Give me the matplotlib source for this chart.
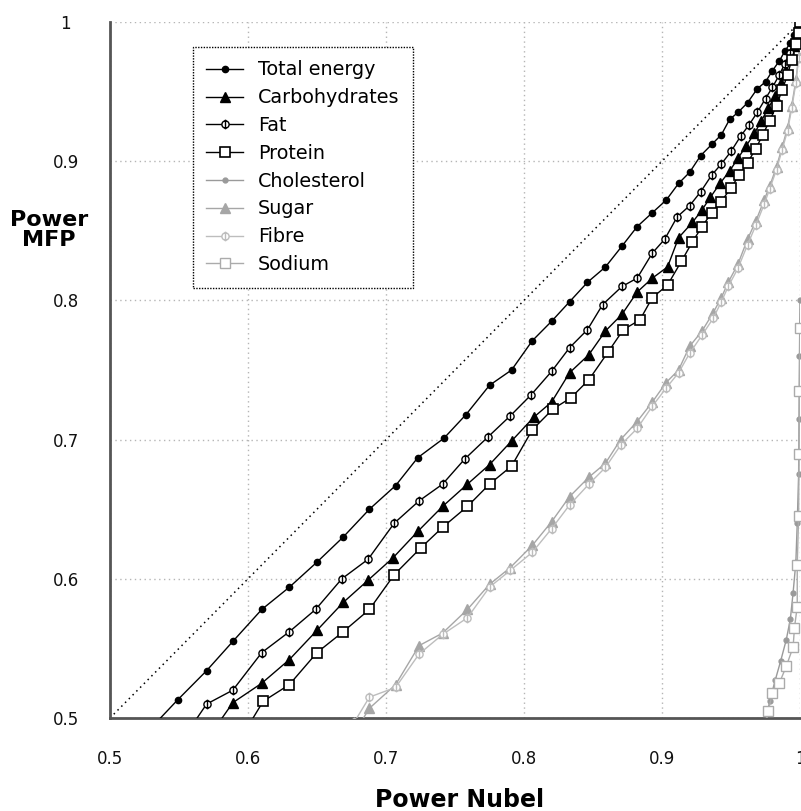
import numpy as np
import matplotlib
matplotlib.use("Agg")
import matplotlib.pyplot as plt
from matplotlib.path import Path

plt.rcParams['font.family'] = ['DejaVu Sans']

# tick values / labels
ticks = [0.5, 0.6, 0.7, 0.8, 0.9, 1.0]
tick_labels = ['0.5', '0.6', '0.7', '0.8', '0.9', '1']

# power curves (x = Power Nubel, y = Power MFP)
energy_x = [0.528, 0.549, 0.570, 0.589, 0.610, 0.630, 0.650, 0.669, 0.688, 0.707, 0.723, 0.742, 0.758,
            0.775, 0.791, 0.806, 0.820, 0.833, 0.846, 0.859, 0.871, 0.882, 0.893, 0.903, 0.912, 0.920,
            0.928, 0.936, 0.943, 0.949, 0.955, 0.962, 0.969, 0.975, 0.980, 0.985, 0.989, 0.993, 0.996,
            0.998, 1.0]
energy_y = [0.491, 0.513, 0.534, 0.555, 0.578, 0.594, 0.612, 0.630, 0.650, 0.667, 0.687, 0.701, 0.718,
            0.739, 0.750, 0.771, 0.785, 0.799, 0.813, 0.824, 0.839, 0.853, 0.863, 0.872, 0.884, 0.892,
            0.904, 0.912, 0.919, 0.930, 0.935, 0.942, 0.952, 0.957, 0.965, 0.972, 0.979, 0.985, 0.991,
            0.995, 1.0]

carb_x = [0.577, 0.589, 0.610, 0.630, 0.650, 0.669, 0.687, 0.705, 0.723, 0.741, 0.759, 0.775, 0.791,
          0.807, 0.820, 0.833, 0.847, 0.859, 0.871, 0.882, 0.893, 0.904, 0.912, 0.922, 0.929, 0.935,
          0.942, 0.949, 0.955, 0.961, 0.967, 0.972, 0.977, 0.982, 0.986, 0.990, 0.993, 0.996, 0.998, 1.0]
carb_y = [0.494, 0.511, 0.525, 0.542, 0.563, 0.583, 0.599, 0.615, 0.634, 0.652, 0.668, 0.682, 0.699,
          0.716, 0.727, 0.748, 0.761, 0.778, 0.790, 0.806, 0.816, 0.824, 0.845, 0.856, 0.865, 0.874,
          0.884, 0.893, 0.902, 0.911, 0.920, 0.929, 0.938, 0.947, 0.956, 0.965, 0.974, 0.983, 0.991, 1.0]

fat_x = [0.559, 0.570, 0.589, 0.610, 0.630, 0.649, 0.668, 0.687, 0.706, 0.724, 0.741, 0.757, 0.774,
         0.790, 0.805, 0.820, 0.833, 0.846, 0.857, 0.871, 0.882, 0.893, 0.902, 0.911, 0.920, 0.928,
         0.936, 0.943, 0.950, 0.957, 0.963, 0.969, 0.975, 0.980, 0.985, 0.989, 0.993, 0.996, 0.998, 1.0]
fat_y = [0.494, 0.510, 0.520, 0.547, 0.562, 0.578, 0.600, 0.614, 0.640, 0.656, 0.668, 0.686, 0.702,
         0.717, 0.732, 0.749, 0.766, 0.779, 0.797, 0.810, 0.816, 0.834, 0.844, 0.860, 0.868, 0.878,
         0.890, 0.898, 0.907, 0.918, 0.926, 0.935, 0.945, 0.953, 0.962, 0.970, 0.978, 0.986, 0.992, 1.0]

protein_x = [0.600, 0.611, 0.630, 0.650, 0.669, 0.688, 0.706, 0.725, 0.741, 0.759, 0.775, 0.791, 0.806,
             0.821, 0.834, 0.847, 0.861, 0.872, 0.884, 0.893, 0.904, 0.914, 0.922, 0.929, 0.936, 0.943,
             0.950, 0.956, 0.962, 0.968, 0.973, 0.978, 0.983, 0.987, 0.991, 0.994, 0.997, 0.999, 1.0]
protein_y = [0.494, 0.512, 0.524, 0.547, 0.562, 0.578, 0.603, 0.622, 0.637, 0.652, 0.668, 0.681, 0.707,
             0.722, 0.730, 0.743, 0.763, 0.779, 0.786, 0.802, 0.811, 0.828, 0.842, 0.853, 0.863, 0.871,
             0.881, 0.890, 0.899, 0.909, 0.919, 0.929, 0.940, 0.951, 0.962, 0.973, 0.984, 0.992, 1.0]

chol_x = [0.974, 0.978, 0.982, 0.986, 0.990, 0.993, 0.995, 0.997, 0.998, 0.999, 0.9993, 0.9996, 1.0]
chol_y = [0.492, 0.512, 0.527, 0.541, 0.556, 0.571, 0.590, 0.612, 0.640, 0.675, 0.715, 0.760, 0.80]

sugar_x = [0.680, 0.688, 0.707, 0.724, 0.741, 0.759, 0.775, 0.790, 0.806, 0.820, 0.833, 0.847, 0.859,
           0.870, 0.882, 0.893, 0.903, 0.912, 0.920, 0.929, 0.937, 0.943, 0.948, 0.955, 0.962, 0.968,
           0.974, 0.978, 0.983, 0.987, 0.991, 0.994, 0.997, 0.999, 1.0]
sugar_y = [0.494, 0.507, 0.524, 0.552, 0.561, 0.578, 0.596, 0.608, 0.624, 0.641, 0.659, 0.673, 0.683,
           0.700, 0.713, 0.727, 0.741, 0.750, 0.767, 0.778, 0.791, 0.802, 0.813, 0.826, 0.844, 0.857,
           0.872, 0.882, 0.896, 0.910, 0.924, 0.940, 0.958, 0.975, 1.0]

fibre_x = [0.677, 0.688, 0.707, 0.724, 0.741, 0.759, 0.775, 0.790, 0.806, 0.820, 0.833, 0.847, 0.859,
           0.870, 0.882, 0.893, 0.903, 0.912, 0.920, 0.929, 0.937, 0.943, 0.948, 0.955, 0.962, 0.968,
           0.974, 0.978, 0.983, 0.987, 0.991, 0.994, 0.997, 0.999, 1.0]
fibre_y = [0.497, 0.515, 0.522, 0.546, 0.560, 0.572, 0.594, 0.606, 0.619, 0.636, 0.653, 0.668, 0.680,
           0.696, 0.708, 0.724, 0.737, 0.748, 0.762, 0.775, 0.787, 0.799, 0.810, 0.823, 0.840, 0.854,
           0.869, 0.880, 0.894, 0.908, 0.922, 0.938, 0.956, 0.974, 1.0]

sodium_x = [0.975, 0.977, 0.980, 0.985, 0.990, 0.995, 0.996, 0.998, 0.998, 0.999, 0.9993, 0.9996, 1.0]
sodium_y = [0.494, 0.505, 0.518, 0.525, 0.537, 0.551, 0.565, 0.580, 0.610, 0.645, 0.690, 0.735, 0.78]

# circle with a vertical bar, used for Fat / Fibre
bar_circle = Path.make_compound_path(Path.unit_circle(), Path([[0, -1.35], [0, 1.35]]))

fig = plt.figure(figsize=(8.01, 8.11), dpi=100)
ax = fig.add_axes([110 / 801, 93 / 811, 690 / 801, 696 / 811])

# equal-power diagonal
ax.plot([0.5, 1.0], [0.5, 1.0], color='black', linestyle=(0, (1, 2.5)), linewidth=1.1, zorder=2)

blk = 'black'
ax.plot(energy_x, energy_y, color=blk, lw=1.0, marker='o', ms=4.5, label='Total energy', zorder=5)
ax.plot(carb_x, carb_y, color=blk, lw=1.0, marker='^', ms=7.5, label='Carbohydrates', zorder=5)
ax.plot(fat_x, fat_y, color=blk, lw=1.0, marker=bar_circle, ms=7, mfc='white', mew=1.0,
        label='Fat', zorder=5)
ax.plot(protein_x, protein_y, color=blk, lw=1.0, marker='s', ms=7, mfc='white', mew=1.2,
        label='Protein', zorder=5)
ax.plot(chol_x, chol_y, color='#9a9a9a', lw=1.0, marker='o', ms=3.5, label='Cholesterol', zorder=4)
ax.plot(sugar_x, sugar_y, color='#a6a6a6', lw=1.0, marker='^', ms=7.5, label='Sugar', zorder=4)
ax.plot(fibre_x, fibre_y, color='#bdbdbd', lw=1.0, marker=bar_circle, ms=7, mfc='white', mew=1.0,
        label='Fibre', zorder=4)
ax.plot(sodium_x, sodium_y, color='#ababab', lw=1.0, marker='s', ms=7, mfc='white', mew=1.0,
        label='Sodium', zorder=4)

ax.set_xlim(0.5, 1.0)
ax.set_ylim(0.5, 1.0)
ax.set_xticks(ticks)
ax.set_xticklabels(tick_labels)
ax.set_yticks(ticks)
ax.set_yticklabels(tick_labels, ha='center')
ax.tick_params(axis='both', length=0, labelsize=12, colors='#111111')
ax.tick_params(axis='y', pad=32)
ax.tick_params(axis='x', pad=23)
ax.grid(True, color='#b5b5b5', linestyle=(0, (1, 2.5)), linewidth=1.0)
ax.set_axisbelow(True)

for s in ['top', 'right']:
    ax.spines[s].set_visible(False)
for s in ['left', 'bottom']:
    ax.spines[s].set_color('#555555')
    ax.spines[s].set_linewidth(2.0)

fig.text(49 / 801, 1 - 230 / 811, 'Power\nMFP', ha='center', va='center',
         fontsize=16, fontweight='bold', linespacing=1.05)
fig.text(460 / 801, 1 - 800 / 811, 'Power Nubel', ha='center', va='center',
         fontsize=17, fontweight='bold')

leg = ax.legend(loc='upper left', bbox_to_anchor=(193 / 801, 1 - 47 / 811),
                bbox_transform=fig.transFigure, borderaxespad=0, fontsize=13.8,
                frameon=True, fancybox=False, edgecolor='black', framealpha=1,
                labelspacing=0.46, handlelength=1.9, handletextpad=0.8, borderpad=0.7)
leg.get_frame().set_linestyle((0, (1, 1)))
leg.get_frame().set_linewidth(1.0)

fig.savefig('out.png', dpi=100)
